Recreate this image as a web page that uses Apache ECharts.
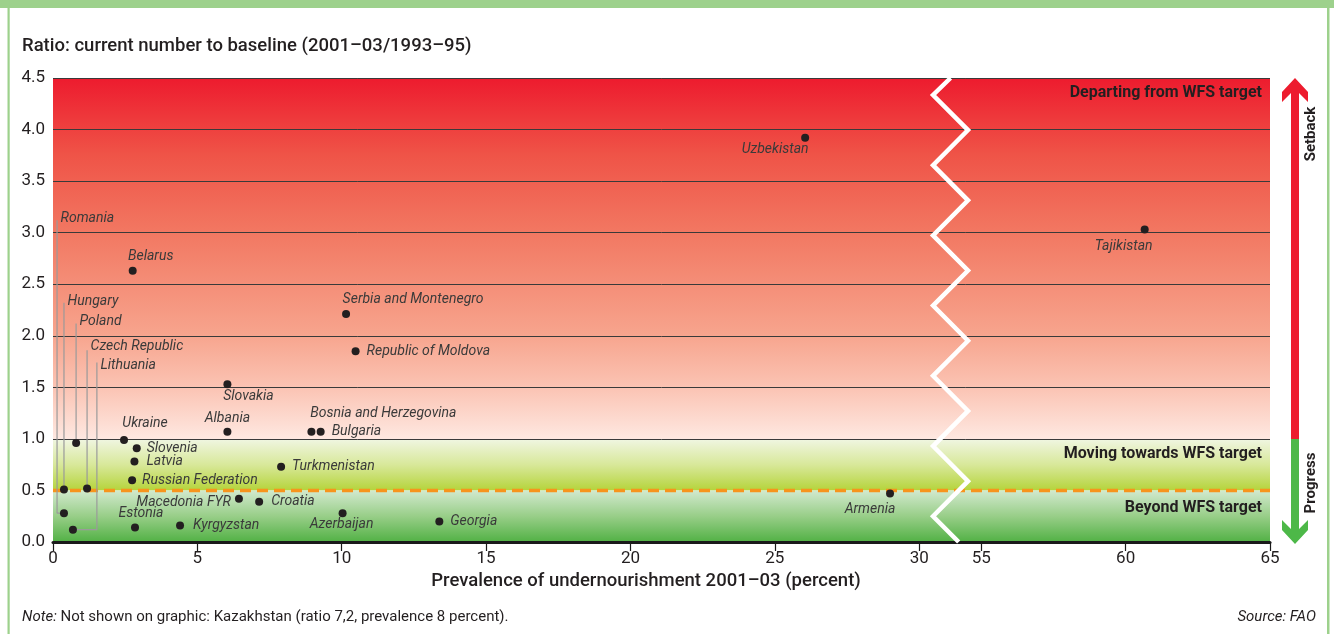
<!DOCTYPE html>
<html><head><meta charset="utf-8">
<script src="https://cdn.jsdelivr.net/npm/echarts@6/dist/echarts.min.js"></script>
<style>html,body{margin:0;padding:0;background:#fff}#c{width:1334px;height:634px}</style>
</head><body><div id="c"></div>
<script>
// ---------- DATA ----------
const countries = ['Uzbekistan','Tajikistan','Belarus','Serbia and Montenegro','Republic of Moldova','Slovakia','Albania','Bosnia and Herzegovina','Bulgaria','Ukraine','Slovenia','Latvia','Russian Federation','Turkmenistan','Macedonia FYR','Croatia','Estonia','Kyrgyzstan','Azerbaijan','Georgia','Armenia','Romania','Hungary','Poland','Czech Republic','Lithuania'];
const prevalence = [26.05, 60.66, 2.76, 10.15, 10.48, 6.04, 6.04, 8.95, 9.27, 2.46, 2.90, 2.82, 2.74, 7.90, 6.44, 7.14, 2.84, 4.40, 10.03, 13.38, 28.99, 0.38, 0.38, 0.80, 1.18, 0.69];
const ratio = [3.92, 3.03, 2.63, 2.21, 1.85, 1.53, 1.07, 1.07, 1.07, 0.99, 0.91, 0.78, 0.60, 0.73, 0.42, 0.39, 0.14, 0.16, 0.28, 0.20, 0.47, 0.28, 0.51, 0.96, 0.52, 0.12];
const xTickLabels = [0, 5, 10, 15, 20, 25, 30, 55, 60, 65];
const yMin = 0, yMax = 4.5, yStep = 0.5;
const targetRatio = 0.5;
const bandLimits = [[1, 4.5], [0.5, 1], [0, 0.5]];
const bandNames = ['Departing from WFS target', 'Moving towards WFS target', 'Beyond WFS target'];

// ---------- AXIS BREAK ----------
const BREAK_FROM = 30, BREAK_TO = 55, BREAK_GAP = 2.15;
function tx(v){ return v <= BREAK_FROM ? v : v - BREAK_TO + BREAK_FROM + BREAK_GAP; }
function untx(t){ return t <= BREAK_FROM + 1e-6 ? t : t - BREAK_FROM - BREAK_GAP + BREAK_TO; }
const X_MAX_T = tx(65);

// ---------- LABEL LAYOUT (style only) ----------
const labelLayout = {
  'Uzbekistan': {p:'c', o:[-30, 12]},
  'Tajikistan': {p:'c', o:[-21, 17]},
  'Belarus': {p:'c', o:[18, -14]},
  'Serbia and Montenegro': {p:'c', o:[67, -15]},
  'Republic of Moldova': {p:'right', d:7},
  'Slovakia': {p:'c', o:[21, 12]},
  'Albania': {p:'c', o:[0, -13]},
  'Bosnia and Herzegovina': {p:'c', o:[72, -18]},
  'Bulgaria': {p:'right', d:7},
  'Ukraine': {p:'c', o:[21, -16]},
  'Slovenia': {p:'right', d:6},
  'Latvia': {p:'right', d:8},
  'Russian Federation': {p:'right', d:6},
  'Turkmenistan': {p:'right', d:7},
  'Macedonia FYR': {p:'left', d:4, o:[0, 4]},
  'Croatia': {p:'right', d:8},
  'Estonia': {p:'c', o:[6, -14]},
  'Kyrgyzstan': {p:'right', d:9},
  'Azerbaijan': {p:'c', o:[-1, 11]},
  'Georgia': {p:'right', d:7},
  'Armenia': {p:'c', o:[-20, 16]}
};
// leader lines: line x (data units) and top of line, label offset
const leaders = {
  'Romania': {lx:0.14, top:3.12, dy:-2},
  'Hungary': {lx:0.38, top:2.32, dy:-1},
  'Poland': {lx:0.80, top:2.12, dy:-2},
  'Czech Republic': {lx:1.18, top:1.86, dy:-4},
  'Lithuania': {lx:1.52, top:1.74, dy:3}
};

const FONT = 'Roboto, "Noto Sans", sans-serif';
const labelBase = {color:'#3a3a3a', opacity:1, fontSize:14, fontStyle:'italic', fontFamily:FONT, formatter:'{b}'};

function labelFor(name){
  const L = labelLayout[name];
  if(!L) return {show:false};
  if(L.p === 'c') return Object.assign({show:true, position:'inside', offset:L.o}, labelBase);
  return Object.assign({show:true, position:L.p, distance:L.d, offset:L.o || [0,0]}, labelBase);
}

const pointData = countries.map((n, i) => ({name:n, value:[tx(prevalence[i]), ratio[i]], label:labelFor(n)}));

// leader line series
const leaderSeries = [];
const leaderLabelData = [];
Object.keys(leaders).forEach(name => {
  const i = countries.indexOf(name);
  const L = leaders[name];
  const px = tx(prevalence[i]), py = ratio[i];
  const pts = [[L.lx, L.top], [L.lx, py]];
  if (Math.abs(L.lx - px) > 0.05) pts.push([px, py]);
  leaderSeries.push({type:'line', data:pts, symbol:'none', silent:true, z:3,
    lineStyle:{color:'#9a9a9a', width:1.2}, animation:false});
  leaderLabelData.push({name:name, value:[L.lx, L.top],
    label:Object.assign({show:true, position:'right', distance:3, offset:[0, L.dy]}, labelBase)});
});

// zigzag break decoration
const zigL = 30.48, zigR = 31.69, zigC = (zigL + zigR) / 2;
const pxPerY = 103.1; // approx pixel per unit, only for shape of zigzag
const zig = [[zigC, yMax]];
let k = 0, yv = yMax - 17 / pxPerY;
while (yv > 0) {
  zig.push([k % 2 === 0 ? zigL : zigR, yv]);
  k++; yv -= 35.1 / pxPerY;
}
{
  const last = zig[zig.length - 1];
  const frac = Math.min(1, last[1] / (35.1 / pxPerY));
  const endX = last[0] === zigL ? zigL + frac * (zigR - zigL) : zigR - frac * (zigR - zigL);
  zig.push([endX, 0]);
}

const bandGradients = [
  [[0,'#ED1B2E'],[0.21,'#EF5347'],[0.43,'#F27862'],[0.71,'#F7A48D'],[0.86,'#FBC4B4'],[1,'#FEE8E1']],
  [[0,'#F0F6E2'],[0.5,'#D8E89A'],[1,'#B5D43B']],
  [[0,'#D2E9CE'],[0.5,'#98CE88'],[1,'#52B145']]
];

const chart = echarts.init(document.getElementById('c'), null, {renderer:'canvas'});

const splitColors = [];
for (let v = yMin; v <= yMax + 1e-9; v += yStep) splitColors.push(Math.abs(v - targetRatio) < 1e-6 ? 'rgba(0,0,0,0)' : '#3a3a3a');

const option = {
  animation:false,
  grid:{left:53, right:64, top:78, bottom:92},
  xAxis:{
    type:'value', min:0, max:X_MAX_T,
    axisLine:{show:true, lineStyle:{color:'#1a1a1a', width:3}},
    axisTick:{show:true, customValues:xTickLabels.map(tx), length:9, lineStyle:{color:'#1a1a1a', width:1.2}},
    axisLabel:{customValues:xTickLabels.map(tx), formatter:v => String(Math.round(untx(v))), color:'#231F20', fontSize:17, fontFamily:FONT, margin:8},
    splitLine:{show:false}
  },
  yAxis:{
    type:'value', min:yMin, max:yMax, interval:yStep,
    axisLine:{show:false}, axisTick:{show:false},
    axisLabel:{formatter:v => v.toFixed(1), color:'#231F20', fontSize:17, fontFamily:FONT, margin:8},
    splitLine:{show:true, lineStyle:{color:splitColors, width:1}}
  },
  series:[
    {
      type:'custom', z:-1, silent:true, animation:false,
      data:bandLimits,
      renderItem:(params, api) => {
        const tl = api.coord([0, api.value(1)]);
        const br = api.coord([X_MAX_T, api.value(0)]);
        return {type:'rect', shape:{x:tl[0], y:tl[1], width:br[0]-tl[0], height:br[1]-tl[1]},
          style:{fill:new echarts.graphic.LinearGradient(0,0,0,1, bandGradients[params.dataIndex].map(s => ({offset:s[0], color:s[1]})))}};
      }
    },
    {
      type:'line', data:[[0, targetRatio],[X_MAX_T, targetRatio]], symbol:'none', silent:true, z:2,
      lineStyle:{color:'#F7941D', width:3.5, type:[11,6]}
    },
    {
      type:'line', data:zig, symbol:'none', silent:true, z:4,
      lineStyle:{color:'#ffffff', width:4.5, join:'miter'}
    },
    ...leaderSeries,
    {
      type:'scatter', data:leaderLabelData, symbolSize:1, silent:true, z:7,
      itemStyle:{color:'rgba(0,0,0,0)', opacity:1}
    },
    {
      type:'scatter', data:pointData, symbolSize:8, z:6,
      itemStyle:{color:'#231F20', opacity:1}
    }
  ],
  graphic:[
    {type:'rect', shape:{x:0, y:0, width:1334, height:8}, style:{fill:'#9DD18C'}, silent:true},
    {type:'rect', shape:{x:7.5, y:0, width:2.2, height:634}, style:{fill:'#9DD18C'}, silent:true},
    {type:'rect', shape:{x:1327, y:0, width:2.5, height:634}, style:{fill:'#9DD18C'}, silent:true},
    {type:'text', x:22, y:46, style:{text:'Ratio: current number to baseline (2001–03/1993–95)', fill:'#231F20', fontSize:18.5, fontWeight:500, fontFamily:FONT, verticalAlign:'middle'}},
    {type:'text', x:646, y:581, style:{text:'Prevalence of undernourishment 2001–03 (percent)', fill:'#231F20', fontSize:18.5, fontWeight:500, fontFamily:FONT, align:'center', verticalAlign:'middle'}},
    {type:'text', x:1262, y:93, z:10, style:{text:bandNames[0], fill:'#231F20', fontSize:16, fontWeight:'bold', fontFamily:FONT, align:'right', verticalAlign:'middle'}},
    {type:'text', x:1262, y:454, z:10, style:{text:bandNames[1], fill:'#231F20', fontSize:16, fontWeight:'bold', fontFamily:FONT, align:'right', verticalAlign:'middle'}},
    {type:'text', x:1262, y:508, z:10, style:{text:bandNames[2], fill:'#231F20', fontSize:16, fontWeight:'bold', fontFamily:FONT, align:'right', verticalAlign:'middle'}},
    {type:'polygon', shape:{points:[[1295,78],[1308,92],[1308,102],[1299,93],[1299,439],[1291,439],[1291,93],[1282,102],[1282,92]]}, style:{fill:'#ED1C2E'}, silent:true},
    {type:'polygon', shape:{points:[[1291,439],[1299,439],[1299,529],[1308,520],[1308,530],[1295,544],[1282,530],[1282,520],[1291,529]]}, style:{fill:'#4DB848'}, silent:true},
    {type:'text', x:1311, y:134, rotation:Math.PI/2, style:{text:'Setback', fill:'#231F20', fontSize:15, fontWeight:'bold', fontFamily:FONT, align:'center', verticalAlign:'middle'}},
    {type:'text', x:1311, y:483, rotation:Math.PI/2, style:{text:'Progress', fill:'#231F20', fontSize:15, fontWeight:'bold', fontFamily:FONT, align:'center', verticalAlign:'middle'}},
    {type:'text', x:22, y:617, style:{text:'{i|Note:} Not shown on graphic: Kazakhstan (ratio 7,2, prevalence 8 percent).', fill:'#231F20', fontSize:15, fontFamily:FONT, verticalAlign:'middle', rich:{i:{fontStyle:'italic', fontSize:15, fontFamily:FONT, fill:'#231F20'}}}},
    {type:'text', x:1316, y:617, style:{text:'Source: FAO', fill:'#231F20', fontSize:15, fontStyle:'italic', fontFamily:FONT, align:'right', verticalAlign:'middle'}}
  ]
};
chart.setOption(option);
</script>
</body></html>
